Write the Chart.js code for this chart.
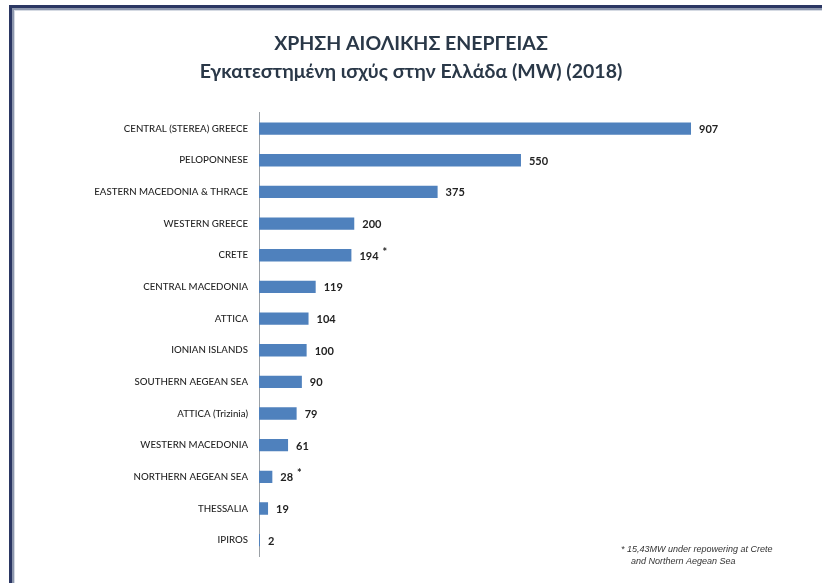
<!DOCTYPE html>
<html>
<head>
<meta charset="utf-8">
<script src="https://cdn.jsdelivr.net/npm/chart.js"></script>
<style>
  html, body { margin: 0; padding: 0; background: #fff; }
  #wrap { position: relative; width: 822px; height: 583px; overflow: hidden; }
  /* slide frame: dark rule along the top and left edges */
  #frame {
    position: absolute; left: 9px; top: 5px; right: -20px; bottom: -20px;
    border-top: 3px solid #2b3763; border-left: 3px solid #2b3763;
    box-shadow: inset 2px 2px 0 #8d97ad, inset 3px 3px 0 #d5dae3;
  }
  #chart { position: absolute; left: 0; top: 0; }
</style>
</head>
<body>
<div id="wrap">
  <div id="frame"></div>
  <canvas id="chart" width="822" height="583"></canvas>
</div>
<script>
// Installed wind capacity per region (MW), 2018
const regions = [
  'CENTRAL (STEREA) GREECE', 'PELOPONNESE', 'EASTERN MACEDONIA & THRACE', 'WESTERN GREECE',
  'CRETE', 'CENTRAL MACEDONIA', 'ATTICA', 'IONIAN ISLANDS', 'SOUTHERN AEGEAN SEA',
  'ATTICA (Trizinia)', 'WESTERN MACEDONIA', 'NORTHERN AEGEAN SEA', 'THESSALIA', 'IPIROS'
];
const capacityMW = [907, 550, 375, 200, 194, 119, 104, 100, 90, 79, 61, 28, 19, 2];
// regions with capacity under repowering get an asterisk
const starred = ['CRETE', 'NORTHERN AEGEAN SEA'];
const titleLines = ['ΧΡΗΣΗ ΑΙΟΛΙΚΗΣ ΕΝΕΡΓΕΙΑΣ', 'Εγκατεστημένη ισχύς στην Ελλάδα (MW) (2018)'];
const footnote = ['* 15,43MW under repowering at Crete', 'and Northern Aegean Sea'];

// value labels at the end of each bar
const valueLabels = {
  id: 'valueLabels',
  afterDatasetsDraw(chart) {
    const ctx = chart.ctx;
    const meta = chart.getDatasetMeta(0);
    ctx.save();
    ctx.font = 'bold 11px Lato';
    ctx.fillStyle = '#222';
    ctx.textBaseline = 'middle';
    meta.data.forEach((bar, i) => {
      const txt = String(capacityMW[i]);
      const x = bar.x + 8;
      ctx.fillText(txt, x, bar.y + 1);
      if (starred.includes(regions[i])) {
        ctx.fillText('*', x + ctx.measureText(txt).width + 4, bar.y - 3);
      }
    });
    ctx.restore();
  }
};

// note in the bottom right corner
const footnotePlugin = {
  id: 'footnote',
  afterDraw(chart) {
    const ctx = chart.ctx;
    ctx.save();
    ctx.font = 'italic 9px "Liberation Sans"';
    ctx.fillStyle = '#333';
    ctx.textBaseline = 'alphabetic';
    ctx.fillText(footnote[0], 621, 552);
    ctx.fillText(footnote[1], 631, 564);
    ctx.restore();
  }
};

new Chart(document.getElementById('chart'), {
  type: 'bar',
  data: {
    labels: regions,
    datasets: [{
      data: capacityMW,
      backgroundColor: '#4f81bd',
      borderWidth: 0,
      categoryPercentage: 1,
      barPercentage: 0.39
    }]
  },
  options: {
    indexAxis: 'y',
    responsive: false,
    animation: false,
    layout: { padding: { left: 0, right: 0, top: 0, bottom: 27 } },
    plugins: {
      legend: { display: false },
      tooltip: { enabled: false },
      title: {
        display: true,
        text: titleLines,
        color: '#2a3848',
        font: { family: 'Lato', size: 19.5, weight: 'bold', lineHeight: 1.43 },
        padding: { top: 30, bottom: 27 }
      }
    },
    scales: {
      x: { display: false, min: 0, max: 1182 },
      y: {
        grid: { display: false },
        border: { display: true, color: '#9aa0a6', width: 1 },
        ticks: {
          color: '#262626',
          padding: 3,
          font: { family: 'Lato', size: 9.7, weight: '500' }
        },
        afterFit(axis) { axis.width = 259; }
      }
    }
  },
  plugins: [valueLabels, footnotePlugin]
});
</script>
</body>
</html>
